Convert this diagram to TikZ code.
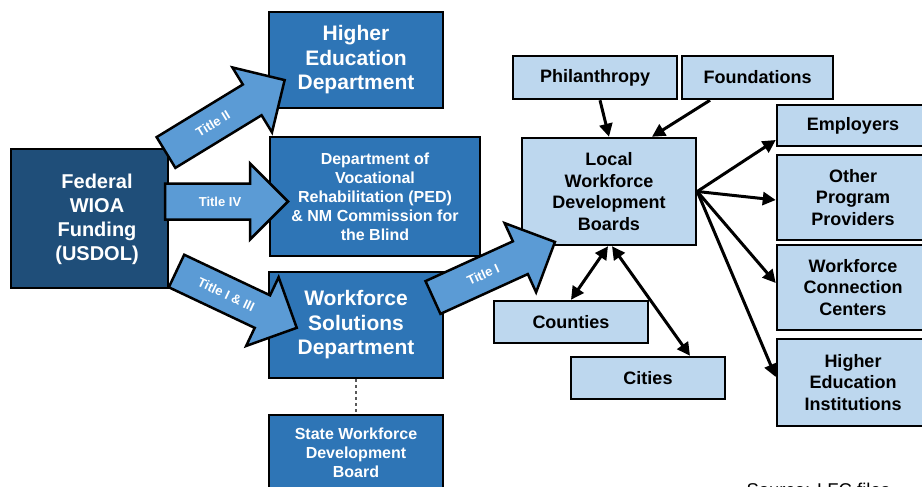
\documentclass[tikz,border=0pt]{standalone}
\usepackage{fontspec}
\setmainfont{Liberation Sans}
\usetikzlibrary{arrows.meta}

\definecolor{navy}{HTML}{1F4E79}
\definecolor{midblue}{HTML}{2E75B6}
\definecolor{arrowblue}{HTML}{5B9BD5}
\definecolor{paleblue}{HTML}{BDD7EE}

\tikzset{
  darkbox/.style={draw, line width=2.5pt, fill=navy, text=white, align=center, inner sep=0pt, font=\fontsize{20}{24}\selectfont\bfseries},
  deptbox/.style={draw, line width=2.5pt, fill=midblue, text=white, align=center, inner sep=0pt, font=\fontsize{21}{24.5}\selectfont\bfseries},
  smalldept/.style={deptbox, font=\fontsize{16}{19}\selectfont\bfseries},
  localbox/.style={draw, line width=2.5pt, fill=paleblue, align=center, inner sep=0pt, font=\fontsize{18}{21.5}\selectfont\bfseries},
  link/.style={line width=3pt, -{Triangle[length=13pt,width=13pt]}},
  twoway/.style={line width=3pt, {Triangle[length=13pt,width=13pt]}-{Triangle[length=13pt,width=13pt]}},
  titlefill/.style={draw, line width=2.5pt, fill=arrowblue, line join=miter},
  titletext/.style={text=white, font=\fontsize{13}{13}\selectfont\bfseries, transform shape}
}

% 太い矢印 (始点, 角度, 長さ, ラベル, 名前)
\newcommand{\titlearrow}[5]{%
  \begin{scope}[shift={#1}, rotate=#2]
    \draw[titlefill] (0,-18) -- ({#3-38},-18) -- ({#3-38},-38) -- (#3,0)
      -- ({#3-38},38) -- ({#3-38},18) -- (0,18) -- cycle;
    \node[titletext] (#5) at (55,0) {#4};
  \end{scope}}

\begin{document}
\begin{tikzpicture}[x=1pt, y=-1pt]
  \fill[white] (0,0) rectangle (922,487);
  \useasboundingbox (0,0) rectangle (922,487);

  % 州の箱
  \node[darkbox, minimum width=157pt, minimum height=139pt] (fed) at (89.5,218.5) {};
  \node[darkbox, draw=none, fill=none] (fedtext) at (97,219) {Federal\\WIOA\\Funding\\(USDOL)};
  \node[deptbox, minimum width=174pt, minimum height=96pt] (hed) at (356,60) {Higher\\Education\\Department};
  \node[smalldept, minimum width=210pt, minimum height=119pt] (dvr) at (375,196.5) {Department of\\Vocational\\Rehabilitation (PED)\\\& NM Commission for\\the Blind};
  \node[deptbox, minimum width=174pt, minimum height=106pt] (wsd) at (356,325) {Workforce\\Solutions\\Department};
  \node[smalldept, minimum width=174pt, minimum height=76pt] (swdb) at (356,453) {State Workforce\\Development\\Board};

  % 地域の箱
  \node[localbox, minimum width=164pt, minimum height=43pt] (phil) at (595,77.5) {Philanthropy};
  \node[localbox, minimum width=151pt, minimum height=43pt] (fnd) at (757.5,77.5) {Foundations};
  \node[localbox, minimum width=174pt, minimum height=107pt] (lwdb) at (609,191.5) {Local\\Workforce\\Development\\Boards};
  \node[localbox, minimum width=152pt, minimum height=41pt] (emp) at (853,125.5) {Employers};
  \node[localbox, minimum width=152pt, minimum height=85pt] (opp) at (853,197.5) {Other\\Program\\Providers};
  \node[localbox, minimum width=152pt, minimum height=85pt] (wcc) at (853,287.5) {Workforce\\Connection\\Centers};
  \node[localbox, minimum width=152pt, minimum height=87pt] (hei) at (853,382.5) {Higher\\Education\\Institutions};
  \node[localbox, minimum width=154pt, minimum height=42pt] (cnt) at (571,322) {Counties};
  \node[localbox, minimum width=154pt, minimum height=42pt] (cit) at (648,378) {Cities};

  \draw[gray!70!black, dashed, line width=1.5pt] (wsd.south) -- (swdb.north);

  % 太い矢印
  \titlearrow{(166,152.5)}{31.4}{139}{Title II}{t2}
  \titlearrow{(165,201.5)}{0}{123}{Title IV}{t4}
  \titlearrow{(176.5,271)}{-25.3}{133}{Title I \& III}{t13}
  \titlearrow{(433,297.5)}{24.5}{134}{Title I}{t1}

  % 線を引く
  \draw[link] ([xshift=5pt]phil.south) -- (lwdb.north);
  \draw[link] ([xshift=-47.5pt]fnd.south) -- ([xshift=43pt]lwdb.north);
  \draw[twoway] ([xshift=-1pt]lwdb.south) -- (cnt.north);
  \draw[twoway] ([xshift=3pt]lwdb.south) -- ([xshift=42pt]cit.north);
  \coordinate (hub) at (lwdb.east);
  \draw[link] (hub) -- ([yshift=-14.5pt]emp.west);
  \draw[link] (hub) -- ([yshift=-2.5pt]opp.west);
  \draw[link] (hub) -- ([yshift=4.5pt]wcc.west);
  \draw[link] (hub) -- ([yshift=5.5pt]hei.west);

  \node[anchor=base west, font=\fontsize{18.5}{22}\selectfont] (src) at (743,496) {Source: LFC files};
\end{tikzpicture}
\end{document}
